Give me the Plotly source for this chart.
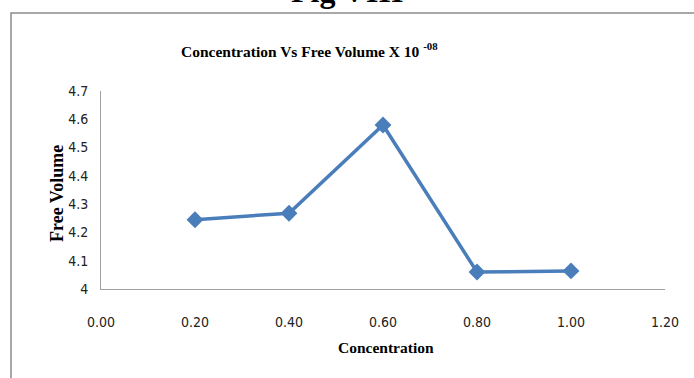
import plotly.graph_objects as go

concentration = [0.20, 0.40, 0.60, 0.80, 1.00]
free_volume = [4.245, 4.268, 4.580, 4.060, 4.064]
x_ticks = [0.0, 0.2, 0.4, 0.6, 0.8, 1.0, 1.2]
x_tick_labels = ["0.00", "0.20", "0.40", "0.60", "0.80", "1.00", "1.20"]
y_ticks = [4.0, 4.1, 4.2, 4.3, 4.4, 4.5, 4.6, 4.7]
y_tick_labels = ["4", "4.1", "4.2", "4.3", "4.4", "4.5", "4.6", "4.7"]

W, H = 694, 378
L, R, T, B = 101, 29, 91, 89
pw, ph = W - L - R, H - T - B

def px(x):
    return (x - L) / pw

def py(y):
    return (H - B - y) / ph

fig = go.Figure()
fig.add_trace(go.Scatter(
    x=concentration, y=free_volume, mode="lines+markers",
    line=dict(color="#4a7ebb", width=3.5),
    marker=dict(symbol="diamond", size=13, color="#4a7ebb"),
    showlegend=False, cliponaxis=False,
))

tickfont = dict(family="DejaVu Sans Condensed, Liberation Sans Narrow, Liberation Sans", size=14, color="#222222")
serif = "Liberation Serif, Times New Roman"
fig.update_layout(
    width=W, height=H,
    margin=dict(l=L, r=R, t=T, b=B),
    paper_bgcolor="white", plot_bgcolor="white",
    xaxis=dict(range=[0, 1.2], tickvals=x_ticks, ticktext=x_tick_labels,
               showgrid=False, zeroline=False, showline=True, linecolor="#a0a0a0", linewidth=1,
               ticks="outside", ticklen=20, tickcolor="rgba(0,0,0,0)", tickfont=tickfont,
               fixedrange=True),
    yaxis=dict(range=[4, 4.7], tickvals=y_ticks, ticktext=y_tick_labels,
               showgrid=False, zeroline=False, showline=True, linecolor="#a0a0a0", linewidth=1,
               ticks="outside", ticklen=9, tickcolor="rgba(0,0,0,0)", tickfont=tickfont,
               fixedrange=True),
    shapes=[dict(type="rect", xref="paper", yref="paper",
                 x0=px(11), x1=px(760), y0=py(460), y1=py(13),
                 line=dict(color="#8c8c8c", width=1.5), fillcolor="rgba(0,0,0,0)", layer="below")],
    annotations=[
        dict(text="<b>Fig VIII</b>", xref="paper", yref="paper", x=px(347), y=py(11),
             xanchor="center", yanchor="bottom", showarrow=False,
             font=dict(family=serif, size=32, color="black")),
        dict(text="<b>Concentration Vs Free Volume X 10 <sup>-08</sup></b>", xref="paper", yref="paper",
             x=px(309), y=py(50), xanchor="center", yanchor="middle", showarrow=False,
             font=dict(family=serif, size=15.5, color="black")),
        dict(text="<b>Free Volume</b>", xref="paper", yref="paper", x=px(57), y=py(194),
             xanchor="center", yanchor="middle", showarrow=False, textangle=-90,
             font=dict(family=serif, size=18, color="black")),
        dict(text="<b>Concentration</b>", xref="paper", yref="paper", x=px(386), y=py(347),
             xanchor="center", yanchor="middle", showarrow=False,
             font=dict(family=serif, size=15.5, color="black")),
    ],
)
fig.write_html("out.html")
